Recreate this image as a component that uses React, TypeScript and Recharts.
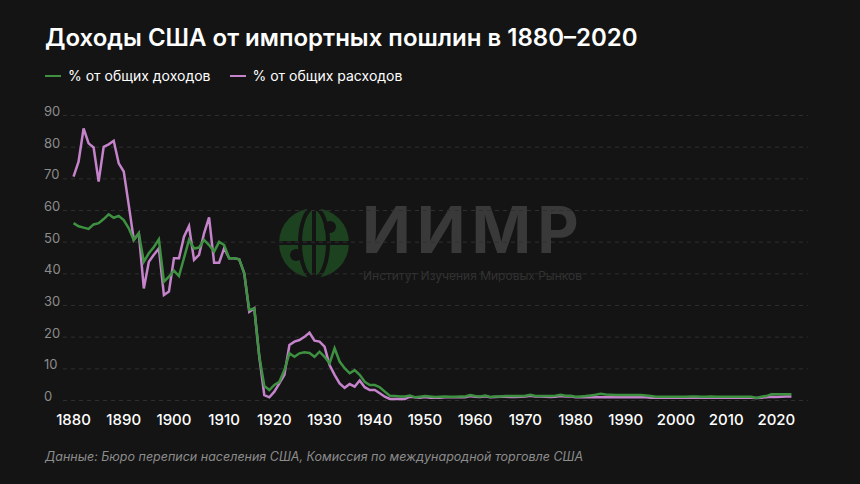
import { LineChart, Line, XAxis, YAxis, CartesianGrid } from "recharts";

const START_YEAR = 1880;

// % от общих доходов (green)
const revenueShare = [
  56, 55, 54.6, 54.2, 55.6, 56, 57.3, 58.8, 57.7, 58.3,
  57, 54.4, 50.7, 52.8, 43.8, 46.5, 48.5, 50.9, 37.5, 39.1,
  41, 39.3, 45, 50.7, 48, 48.3, 50.7, 49.1, 47, 50.1,
  49.1, 44.9, 44.9, 44.6, 40.2, 28.6, 29.1, 14, 4.6, 3.3,
  4.9, 5.9, 9.6, 14.9, 13.8, 14.9, 15.2, 15, 13.8, 15.4,
  13.8, 11.7, 16.5, 12.3, 10.2, 8.6, 9.6, 8.1, 5.9, 4.9,
  4.9, 4.2, 2.8, 1.5, 1.4, 1.3, 1.3, 1.6, 1.0, 1.2,
  1.4, 1.3, 1.1, 1.2, 1.3, 1.2, 1.2, 1.3, 1.3, 1.7,
  1.4, 1.3, 1.6, 1.1, 1.3, 1.3, 1.4, 1.4, 1.4, 1.4,
  1.5, 1.8, 1.4, 1.4, 1.4, 1.4, 1.5, 1.8, 1.5, 1.5,
  1.2, 1.3, 1.4, 1.6, 1.8, 2.1, 1.9, 1.8, 1.7, 1.7,
  1.7, 1.7, 1.7, 1.7, 1.6, 1.4, 1.2, 1.2, 1.2, 1.2,
  1.2, 1.2, 1.2, 1.3, 1.3, 1.2, 1.2, 1.3, 1.2, 1.2,
  1.2, 1.2, 1.2, 1.2, 1.2, 1.2, 0.8, 1.2, 1.4, 2.0,
  2.0, 2.0, 2.0, 2.0,
];

// % от общих расходов (purple)
const spendingShare = [
  70.7, 75.4, 85.9, 81.2, 79.9, 69.1, 80.1, 80.9, 82, 74.9,
  72.3, 61.7, 50.7, 52.8, 35.4, 43.8, 46, 48, 33.3, 34.4,
  44.9, 44.9, 51.7, 55.1, 44.4, 46, 52.8, 57.8, 43.5, 43.5,
  48.1, 44.9, 44.9, 44.6, 40.2, 28, 29.1, 13.8, 1.7, 1,
  2.8, 5.4, 8.1, 17.5, 18.6, 19.1, 20.1, 21.4, 18.9, 18.6,
  17, 11.2, 8.1, 5.4, 4, 5.2, 4.4, 6.3, 4.2, 3.3,
  3.3, 2.3, 1.2, 0.5, 0.5, 0.5, 0.5, 1.2, 1.0, 0.9,
  1.1, 0.9, 0.9, 0.9, 1.0, 1.0, 1.0, 1.0, 1.0, 1.4,
  1.2, 1.1, 1.3, 1.0, 1.1, 1.2, 1.2, 1.1, 1.1, 1.2,
  1.3, 1.5, 1.3, 1.3, 1.2, 1.1, 1.2, 1.4, 1.3, 1.3,
  1.0, 1.0, 1.0, 1.0, 1.0, 1.0, 1.0, 1.0, 1.0, 1.0,
  1.0, 1.0, 1.0, 1.0, 1.0, 0.9, 0.9, 0.9, 0.9, 0.9,
  0.9, 0.9, 0.9, 0.9, 0.9, 0.9, 0.9, 0.9, 0.9, 0.9,
  0.9, 0.9, 0.9, 0.9, 0.9, 0.9, 0.8, 0.9, 1.0, 1.2,
  1.1, 1.2, 1.3, 1.3,
];

const xTicks = [1880, 1890, 1900, 1910, 1920, 1930, 1940, 1950, 1960, 1970, 1980, 1990, 2000, 2010, 2020];
const yTicks = [0, 10, 20, 30, 40, 50, 60, 70, 80, 90];

const GREEN = "#3d9140";
const PURPLE = "#c483ca";
const BG = "#141414";
const FONT = "Inter, 'Noto Sans', sans-serif";

const data = revenueShare.map((v, i) => ({
  year: START_YEAR + i,
  revenue: v,
  spending: spendingShare[i],
}));

function YTick(props: any) {
  const { y, payload } = props;
  return (
    <text x={44} y={y - 3} fill="#8c8c8c" fontSize={13} fontFamily={FONT} dominantBaseline="middle">
      {payload.value}
    </text>
  );
}

function Watermark() {
  return (
    <>
      <svg style={{ position: "absolute", left: 278, top: 207 }} width={72} height={72} viewBox="0 0 72 72">
        <circle cx={36} cy={36} r={35} fill="#1c4220" />
        <ellipse cx={36} cy={36} rx={14} ry={35} fill="none" stroke={BG} strokeWidth={4} />
        <line x1={36} y1={1} x2={36} y2={71} stroke={BG} strokeWidth={4} />
        <line x1={1} y1={36} x2={71} y2={36} stroke={BG} strokeWidth={4} />
        <circle cx={52} cy={20} r={6} fill={BG} />
        <circle cx={18} cy={48} r={6} fill={BG} />
      </svg>
      <div style={{ position: "absolute", left: 362, top: 201, fontFamily: FONT, fontWeight: 700, fontSize: 64, color: "#393939", lineHeight: "58px", letterSpacing: 6 }}>
        ИИМР
      </div>
      <div style={{ position: "absolute", left: 363, top: 269, fontFamily: FONT, fontSize: 12, color: "#323232", lineHeight: "14px" }}>
        Институт Изучения Мировых Рынков
      </div>
    </>
  );
}

export default function App() {
  return (
    <div style={{ position: "absolute", left: 0, top: 0, width: 860, height: 484, background: BG, overflow: "hidden" }}>
      <div style={{ position: "absolute", left: 45, top: 23, fontFamily: FONT, fontWeight: 600, fontSize: 24, color: "#fff" }}>
        Доходы США от импортных пошлин в 1880–2020
      </div>
      <div style={{ position: "absolute", left: 45, top: 67, display: "flex", alignItems: "center", fontFamily: FONT, fontSize: 14, color: "#fff" }}>
        <span style={{ width: 16, height: 2, background: GREEN, marginRight: 7 }} />
        <span>% от общих доходов</span>
        <span style={{ width: 16, height: 2, background: PURPLE, marginLeft: 19, marginRight: 7 }} />
        <span>% от общих расходов</span>
      </div>
      <Watermark />
      <div style={{ position: "absolute", left: 0, top: 0 }}>
        <LineChart width={860} height={484} data={data} margin={{ top: 115.5, right: 52, bottom: 53.5, left: 44 }}>
          <CartesianGrid vertical={false} stroke="#2f2f2f" strokeDasharray="4 4" />
          <XAxis
            dataKey="year"
            type="number"
            domain={[1877.9, 2026.3]}
            ticks={xTicks}
            height={30}
            axisLine={false}
            tickLine={false}
            tickMargin={8}
            tick={{ fill: "#ffffff", fontSize: 15, fontFamily: FONT, fontWeight: 500 }}
          />
          <YAxis
            width={19}
            domain={[0, 90]}
            ticks={yTicks}
            axisLine={false}
            tickLine={false}
            tick={<YTick />}
          />
          <Line type="linear" dataKey="spending" stroke={PURPLE} strokeWidth={2.5} dot={false} isAnimationActive={false} />
          <Line type="linear" dataKey="revenue" stroke={GREEN} strokeWidth={2.5} dot={false} isAnimationActive={false} />
        </LineChart>
      </div>
      <div style={{ position: "absolute", left: 45, top: 449, fontFamily: FONT, fontStyle: "italic", fontSize: 12.5, color: "#8c8c8c" }}>
        Данные: Бюро переписи населения США, Комиссия по международной торговле США
      </div>
    </div>
  );
}
